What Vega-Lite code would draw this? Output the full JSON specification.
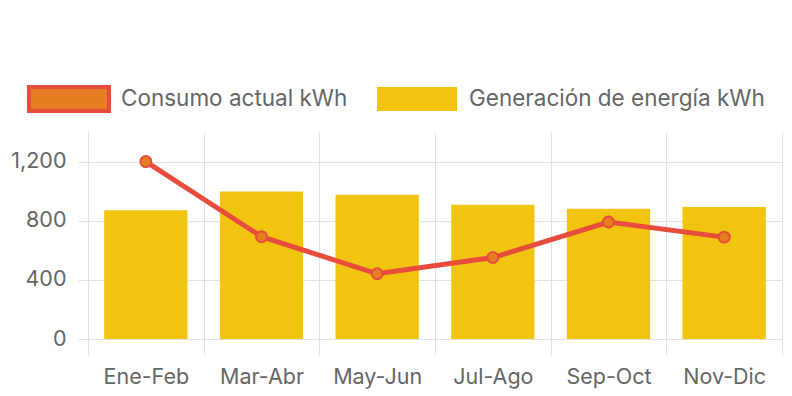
{
  "$schema": "https://vega.github.io/schema/vega-lite/v6.json",
  "autosize": "none",
  "width": 694,
  "height": 207,
  "padding": {"left": 88, "top": 132, "right": 10, "bottom": 57},
  "background": "white",
  "config": {
    "font": "Inter",
    "view": {"stroke": null},
    "axis": {"labelFont": "Inter", "labelFontSize": 21.5, "labelColor": "#666666", "gridColor": "#e1e1e1", "tickColor": "#e1e1e1", "domainColor": "#c8c8c8"}
  },
  "data": {
    "values": [
      {"periodo": "Ene-Feb", "generacion": 870, "consumo": 1200},
      {"periodo": "Mar-Abr", "generacion": 997, "consumo": 692},
      {"periodo": "May-Jun", "generacion": 976, "consumo": 441},
      {"periodo": "Jul-Ago", "generacion": 908, "consumo": 551},
      {"periodo": "Sep-Oct", "generacion": 881, "consumo": 791},
      {"periodo": "Nov-Dic", "generacion": 893, "consumo": 689}
    ]
  },
  "encoding": {
    "x": {
      "field": "periodo", "type": "nominal", "sort": null,
      "scale": {"paddingInner": 0, "paddingOuter": 0},
      "axis": {"title": null, "labelAngle": 0, "tickBand": "extent", "grid": true, "tickSize": 16, "labelPadding": 11, "domain": false}
    }
  },
  "layer": [
    {
      "mark": {"type": "bar", "width": {"band": 0.72}},
      "encoding": {
        "y": {
          "field": "generacion", "type": "quantitative",
          "scale": {"domain": [0, 1400], "nice": false},
          "axis": {"title": null, "values": [0, 400, 800, 1200], "format": ",d", "tickSize": 10, "labelPadding": 12, "grid": true, "domain": true, "domainColor": "#e1e1e1"}
        },
        "color": {
          "datum": "Generación de energía kWh",
          "type": "nominal",
          "scale": {"domain": ["Consumo actual kWh", "Generación de energía kWh"], "range": ["#E67E22", "#F1C40F"]},
          "legend": {
            "title": null,
            "orient": "none",
            "legendX": -61,
            "legendY": -75,
            "direction": "horizontal",
            "padding": 0,
            "symbolType": "M-1,-0.3H1V0.3H-1Z",
            "symbolSize": 6400,
            "symbolOpacity": 1,
            "labelFont": "Inter",
            "labelFontSize": 22.5,
            "labelColor": "#666666",
            "labelOffset": 10,
            "columnPadding": 21,
            "labelLimit": 400,
            "encode": {
              "symbols": {
                "update": {
                  "stroke": {"signal": "datum.value === 'Consumo actual kWh' ? '#E74C3C' : 'transparent'"},
                  "strokeWidth": {"value": 4}
                }
              }
            }
          }
        }
      }
    },
    {
      "mark": {"type": "rule", "color": "#c8c8c8", "strokeWidth": 1.5},
      "encoding": {"y": {"datum": 0, "type": "quantitative"}}
    },
    {
      "mark": {"type": "line", "color": "#E74C3C", "strokeWidth": 5},
      "encoding": {"y": {"field": "consumo", "type": "quantitative"}}
    },
    {
      "mark": {"type": "point", "filled": true, "fill": "#E67E22", "stroke": "#E74C3C", "strokeWidth": 2, "size": 120, "opacity": 1},
      "encoding": {"y": {"field": "consumo", "type": "quantitative"}}
    }
  ]
}
